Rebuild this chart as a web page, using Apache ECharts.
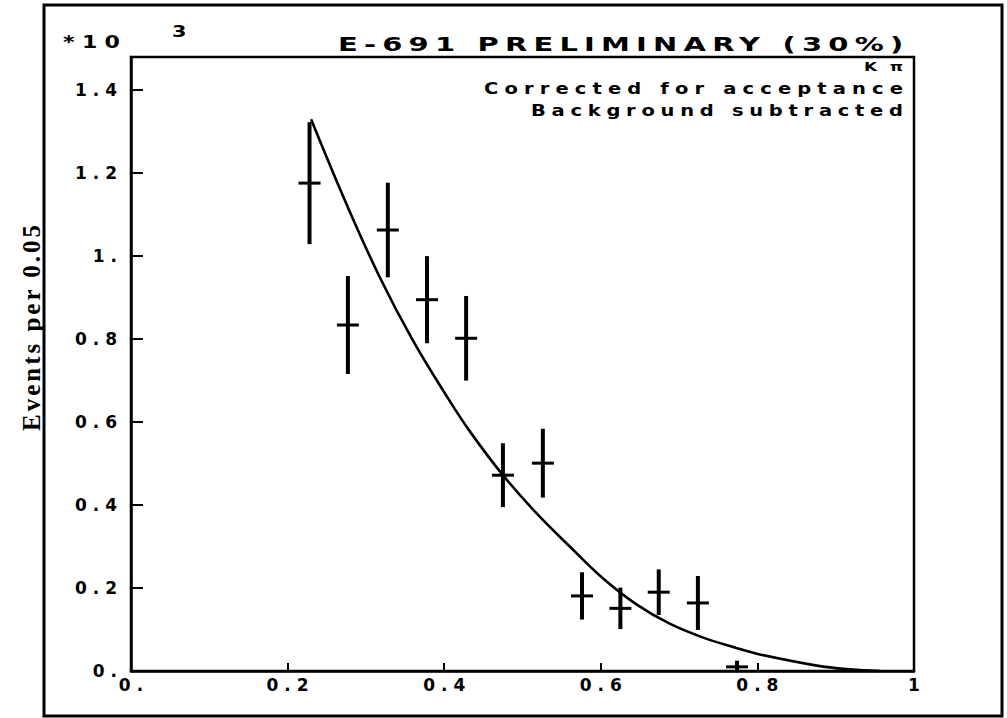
<!DOCTYPE html>
<html>
<head>
<meta charset="utf-8">
<script src="https://cdn.jsdelivr.net/npm/echarts@6/dist/echarts.min.js"></script>
<style>
html,body{margin:0;padding:0;background:#fff;}
#chart{width:1007px;height:718px;}
</style>
</head>
<body>
<div id="chart"></div>
<script>
// ---- data ----
const binX   = [0.228, 0.277, 0.328, 0.378, 0.428, 0.475, 0.526, 0.576, 0.625, 0.674, 0.724, 0.774];
const events = [1.176, 0.834, 1.063, 0.895, 0.802, 0.472, 0.501, 0.181, 0.151, 0.190, 0.164, 0.010];
const errors = [0.147, 0.118, 0.114, 0.105, 0.102, 0.077, 0.083, 0.057, 0.050, 0.055, 0.065, 0.015];

const fitX = [0.230, 0.276, 0.318, 0.360, 0.404, 0.433, 0.475, 0.519, 0.561, 0.603, 0.646, 0.688, 0.730, 0.774, 0.803, 0.876, 0.918, 0.957];
const fitY = [1.330, 1.122, 0.948, 0.797, 0.660, 0.577, 0.472, 0.378, 0.299, 0.223, 0.160, 0.114, 0.081, 0.055, 0.040, 0.013, 0.004, 0.000];

const xTickLabels = {0: '0.', 0.2: '0.2', 0.4: '0.4', 0.6: '0.6', 0.8: '0.8', 1: '1'};
const yTickLabels = {0: '0.', 0.2: '0.2', 0.4: '0.4', 0.6: '0.6', 0.8: '0.8', 1: '1.', 1.2: '1.2', 1.4: '1.4'};

const titleText = 'E-691 PRELIMINARY (30%)';
const scaleText = '*10';
const expText = '3';
const channelText = 'Kπ';
const note1 = 'Corrected for acceptance';
const note2 = 'Background subtracted';
const yName = 'Events per 0.05';

// ---- chart ----
const pointData = binX.map((x, i) => [x, events[i], errors[i]]);
const fitData = fitX.map((x, i) => [x, fitY[i]]);

function lbl(map) {
  return function (v) {
    const k = Math.round(v * 10) / 10;
    if (Math.abs(v - k) > 1e-6) return '';
    return map[k] !== undefined ? map[k] : '';
  };
}

const plotFont = 'DejaVu Sans';
const chart = echarts.init(document.getElementById('chart'), null, {renderer: 'svg'});

// target spans (px) of the plotter lettering, and horizontal stretch of its glyphs
const lettering = [
  {text: scaleText,   x: 63,  y: 42,  size: 17, sx: 1.3, w: 57},
  {text: expText,     x: 172, y: 31,  size: 16, sx: 1.3, w: 0},
  {text: titleText,   x: 338, y: 44,  size: 20, sx: 1.45, w: 565},
  {text: channelText, x: 864, y: 67,  size: 13, sx: 1.3, w: 39},
  {text: note1,       x: 484, y: 89,  size: 15, sx: 1.3, w: 419},
  {text: note2,       x: 531, y: 111, size: 15, sx: 1.3, w: 372}
];

const graphics = [
  {type: 'rect', shape: {x: 44, y: 5, width: 958, height: 711}, style: {fill: 'none', stroke: '#000', lineWidth: 3}, z: 0}
];
lettering.forEach(function (L) {
  graphics.push({type: 'text', x: L.x, y: L.y, scaleX: L.sx, scaleY: 1,
    style: {text: L.text, font: 'bold ' + L.size + 'px DejaVu Sans', fill: '#000', textAlign: 'left', textVerticalAlign: 'middle'}});
});
graphics.push({type: 'text', x: 31, y: 431, rotation: Math.PI / 2,
  style: {text: yName, font: 'bold 25px Liberation Serif', fill: '#000', textAlign: 'left', textVerticalAlign: 'middle'}});

const option = {
  animation: false,
  backgroundColor: '#fff',
  grid: {left: 131, right: 93, top: 57, bottom: 47, show: true, borderColor: '#000', borderWidth: 2.5, backgroundColor: 'transparent'},
  xAxis: {
    type: 'value', min: 0, max: 1, interval: 0.2,
    axisLine: {lineStyle: {color: '#000', width: 2.5}},
    axisTick: {inside: true, length: 8, lineStyle: {color: '#000', width: 2}},
    axisLabel: {formatter: lbl(xTickLabels), color: '#000', fontFamily: plotFont, fontWeight: 'bold', fontSize: 17, margin: 5},
    splitLine: {show: false}
  },
  yAxis: {
    type: 'value', min: 0, max: 1.48, interval: 0.2,
    axisLine: {lineStyle: {color: '#000', width: 2.5}},
    axisTick: {inside: true, length: 12, lineStyle: {color: '#000', width: 2}},
    axisLabel: {formatter: lbl(yTickLabels), color: '#000', fontFamily: plotFont, fontWeight: 'bold', fontSize: 17, margin: 14},
    splitLine: {show: false}
  },
  graphic: graphics,
  series: [
    {
      type: 'line', data: fitData, smooth: 0.4, showSymbol: false, symbol: 'none',
      lineStyle: {color: '#000', width: 2.6}, z: 3, silent: true
    },
    {
      type: 'custom', data: pointData, z: 4, silent: true, clip: true,
      renderItem: function (params, api) {
        const x = api.value(0), y = api.value(1), e = api.value(2);
        const c = api.coord([x, y]);
        const t = api.coord([x, y + e]);
        const b = api.coord([x, Math.max(0, y - e)]);
        return {type: 'group', children: [
          {type: 'line', shape: {x1: c[0], y1: t[1], x2: c[0], y2: b[1]}, style: {stroke: '#000', lineWidth: 4}},
          {type: 'line', shape: {x1: c[0] - 11, y1: c[1], x2: c[0] + 11, y2: c[1]}, style: {stroke: '#000', lineWidth: 3}}
        ]};
      }
    }
  ]
};
chart.setOption(option);

// widen the plotter-style lettering to the spans seen in the picture
const spanLocal = {};
lettering.forEach(function (L) { if (L.w) spanLocal[L.text] = L.w / L.sx; });
spanLocal[yName] = 206;
const axisSpacing = 6;
function widen() {
  document.querySelectorAll('#chart text').forEach(function (t) {
    if (t.getAttribute('data-w')) return;
    const s = t.textContent;
    const n = s.length;
    if (n < 2) return;
    let sp;
    if (spanLocal[s] !== undefined) {
      const nat = t.getComputedTextLength();
      sp = (spanLocal[s] - nat) / (n - 1);
    } else if (/^[0-9.]+$/.test(s)) {
      sp = axisSpacing;
    } else return;
    t.setAttribute('letter-spacing', sp.toFixed(2));
    t.style.letterSpacing = sp.toFixed(2) + 'px';
    const anchor = t.getAttribute('text-anchor');
    let dx = 0;
    if (anchor === 'end') dx = sp;
    else if (anchor === 'middle') dx = sp / 2;
    if (dx) t.setAttribute('dx', dx.toFixed(2));
    t.setAttribute('data-w', '1');
  });
}
chart.on('finished', widen);
setTimeout(widen, 50);
setTimeout(widen, 300);
</script>
</body>
</html>
